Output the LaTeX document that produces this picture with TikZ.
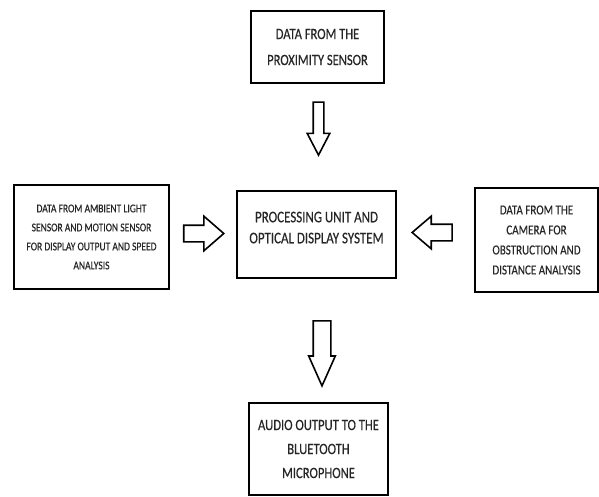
\documentclass[tikz,border=0pt]{standalone}
\usepackage{fontspec}
\setmainfont[FakeStretch=0.8,FakeBold=0.35]{Carlito}
\usetikzlibrary{positioning}
\usetikzlibrary{shapes.arrows}
\tikzset{%
  >=latex,
  blockbox/.style={draw=black,line width=2.2pt,align=center,inner sep=0pt,
    text=black!85},%
  hollowarrow/.style={single arrow,draw=black,line width=1.6pt,inner sep=0pt,
    minimum width=0pt,single arrow head indent=0pt}%
}

\begin{document}
\begin{tikzpicture}[x=1pt,y=-1pt]
\useasboundingbox (0,0) rectangle (599,497);

% the five blocks
\node[blockbox,minimum width=133pt,minimum height=72pt,
  font={\fontsize{15.7}{26}\selectfont}] (prox) at (317.5,47)
  {DATA FROM THE\\PROXIMITY SENSOR};
\node[blockbox,minimum width=155pt,minimum height=104pt,
  font={\fontsize{11.9}{19}\selectfont}] (ambient) at (91.5,237)
  {DATA FROM AMBIENT LIGHT\\SENSOR AND MOTION SENSOR\\FOR DISPLAY OUTPUT AND SPEED\\ANALYSIS};
\node[blockbox,minimum width=159pt,minimum height=87pt,text depth=14pt,
  font={\fontsize{16.2}{21}\selectfont}] (proc) at (316.5,234.5)
  {PROCESSING UNIT AND\\OPTICAL DISPLAY SYSTEM};
\node[blockbox,minimum width=123pt,minimum height=104pt,
  font={\fontsize{13.8}{20}\selectfont}] (camera) at (536.5,240)
  {DATA FROM THE\\CAMERA FOR\\OBSTRUCTION AND\\DISTANCE ANALYSIS};
\node[blockbox,minimum width=139pt,minimum height=92pt,
  font={\fontsize{15.8}{24}\selectfont}] (audio) at (318.5,449)
  {AUDIO OUTPUT TO THE\\BLUETOOTH\\MICROPHONE};

% hollow arrows (shaft = 2 x inner sep across the arrow)
\node[hollowarrow,shape border rotate=270,minimum height=53pt,inner xsep=4.5pt,
  single arrow head extend=6pt,single arrow tip angle=55] (arrProx) at (318.5,123.5) {};
\node[hollowarrow,shape border rotate=0,minimum height=40pt,inner ysep=7.5pt,
  single arrow head extend=9pt,single arrow tip angle=82] (arrAmbient) at (199,233.5) {};
\node[hollowarrow,shape border rotate=180,minimum height=40pt,inner ysep=7.5pt,
  single arrow head extend=8pt,single arrow tip angle=81] (arrCamera) at (437,232.5) {};
\node[hollowarrow,shape border rotate=270,minimum height=65pt,inner xsep=8pt,
  single arrow head extend=4.5pt,single arrow tip angle=48] (arrAudio) at (322,343.5) {};
\end{tikzpicture}
\end{document}
